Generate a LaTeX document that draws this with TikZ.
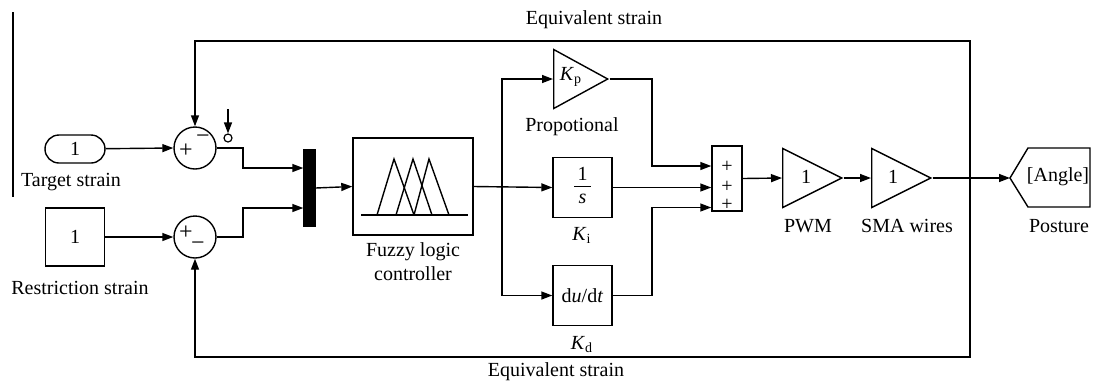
\documentclass[tikz,border=0pt]{standalone}
\usepackage{fontspec}
\setmainfont{Liberation Serif}
\usetikzlibrary{arrows.meta, shapes.geometric, positioning}
\tikzset{
	blk/.style={draw, line width=0.7pt, inner sep=0pt},
	gain/.style={draw, line width=0.7pt, isosceles triangle, isosceles triangle stretches,
		inner sep=0pt, minimum width=29.5pt, minimum height=29.5pt, anchor=west},
	sumnode/.style={draw, circle, line width=0.7pt, minimum size=21pt, inner sep=0pt},
	sig/.style={line width=0.7pt, -{Triangle[length=5.5pt,width=4pt]}},
	wire/.style={line width=0.7pt},
	sgn/.style={font=\large, inner sep=0pt},
	sgnb/.style={font=\normalsize, inner sep=0pt}
}
\begin{document}
\begin{tikzpicture}[x=0.5pt, y=-0.5pt]
  \useasboundingbox (0,0) rectangle (1094,382);
  % stray rule at the far left
  \draw[line width=0.6pt] (13,12) -- (13,197);

  % inputs
  \node[blk, rounded corners=7pt, minimum width=30pt, minimum height=14pt] (tgt) at (75,149) {1};
  \node (tgtlbl) at (71,182) {Target strain};
  \node[blk, minimum width=29.5pt, minimum height=29pt] (rst) at (75,237) {1};
  \node (rstlbl) at (80,288) {Restriction strain};

  % summing junctions
  \node[sumnode] (sum1) at (195,148) {};
  \node[sgn] (sum1p) at (186,151) {+};
  \node[sgn] (sum1m) at (203,139) {−};
  \node[sumnode] (sum2) at (195,237) {};
  \node[sgn] (sum2p) at (186,233) {+};
  \node[sgn] (sum2m) at (198,246) {−};
  \node[draw, circle, line width=0.6pt, minimum size=4pt, inner sep=0pt] (gnd) at (228,138) {};
  \coordinate (gndtop) at (228,109);

  % mux and fuzzy controller
  \node[blk, fill=black, minimum width=5.5pt, minimum height=38pt] (mux) at (309.5,188) {};
  \node[blk, minimum width=60pt, minimum height=48.5pt] (flc) at (413,186.5) {};
  \draw[wire] (361,215) -- (468,215);
  \draw[wire] (377,215) -- (394,159) -- (414,215);
  \draw[wire] (396,215) -- (413,159) -- (432,215);
  \draw[wire] (414,215) -- (429,159) -- (449,215);
  \node[align=center] (flclbl) at (413,262) {Fuzzy logic\\controller};

  % PID branches
  \coordinate (br) at (502,187);
  \node[gain, minimum height=27pt] (kp) at (553,79) {};
  \node (kptxt) at (571,77) {\textit{K}\textsubscript{p}};
  \node (kplbl) at (572,127) {Propotional};
  \node[blk, minimum width=29.5pt, minimum height=30pt] (ki) at (582.5,187.5)
    {\begin{tabular}{@{\,}c@{\,}}1\\[-1pt]\hline\textit{s}\end{tabular}};
  \node (kilbl) at (582,235) {\textit{K}\textsubscript{i}};
  \node[blk, minimum width=29.5pt, minimum height=30pt] (kd) at (582.5,295.5) {d\textit{u}/d\textit{t}};
  \node (kdlbl) at (582,345) {\textit{K}\textsubscript{d}};

  % sum block
  \node[blk, minimum width=15pt, minimum height=32.5pt] (sumb) at (727,178.5) {};
  \node[sgnb] (sb1) at (727,167) {+};
  \node[sgnb] (sb2) at (727,187) {+};
  \node[sgnb] (sb3) at (727,205) {+};

  % actuator chain
  \node[gain] (pwm) at (782,178) {};
  \node (pwmtxt) at (806,177) {1};
  \node (pwmlbl) at (808,226) {PWM};
  \node[gain] (sma) at (871,178) {};
  \node (smatxt) at (893,177) {1};
  \node (smalbl) at (907,226) {SMA wires};
  % goto tag
  \coordinate (post) at (1010,178);
  \draw[wire] (post) -- (1028,148) -- (1090,148) -- (1090,207) -- (1028,207) -- cycle;
  \node (posttxt) at (1058,177) {[Angle]};
  \node (postlbl) at (1059,226) {Posture};

  % feedback
  \coordinate (fb) at (970,178);
  \node (eqtop) at (594,20) {Equivalent strain};
  \node (eqbot) at (556,372) {Equivalent strain};

  % connectors
  \draw[sig] (tgt) -- (sum1.west);
  \draw[sig] (rst) -- (sum2.west);
  \draw[sig] (gndtop) -- (gnd.north);
  \draw[sig] (sum1.east) -- (243,148) |- ([yshift=10pt]mux.west);
  \draw[sig] (sum2.east) -- (243,237) |- ([yshift=-10pt]mux.west);
  \draw[sig] (mux.east) -- (flc.west);
  \draw[sig] (flc.east) -- (ki.west);
  \draw[sig] (br) |- (kp.west);
  \draw[sig] (br) |- (kd.west);
  \draw[sig] (kp.apex) -- (652,79) |- ([yshift=6.25pt]sumb.west);
  \draw[sig] (ki.east) -- (ki.east -| sumb.west);
  \draw[sig] (kd.east) -- (652,295.5) |- ([yshift=-14.5pt]sumb.west);
  \draw[sig] (sumb.east) -- (pwm.west);
  \draw[sig] (pwm.apex) -- (sma.west);
  \draw[sig] (sma.apex) -- (post);
  \draw[sig] (fb) -- (970,41) -| (sum1.north);
  \draw[sig] (fb) -- (970,357) -| (sum2.south);
\end{tikzpicture}
\end{document}
